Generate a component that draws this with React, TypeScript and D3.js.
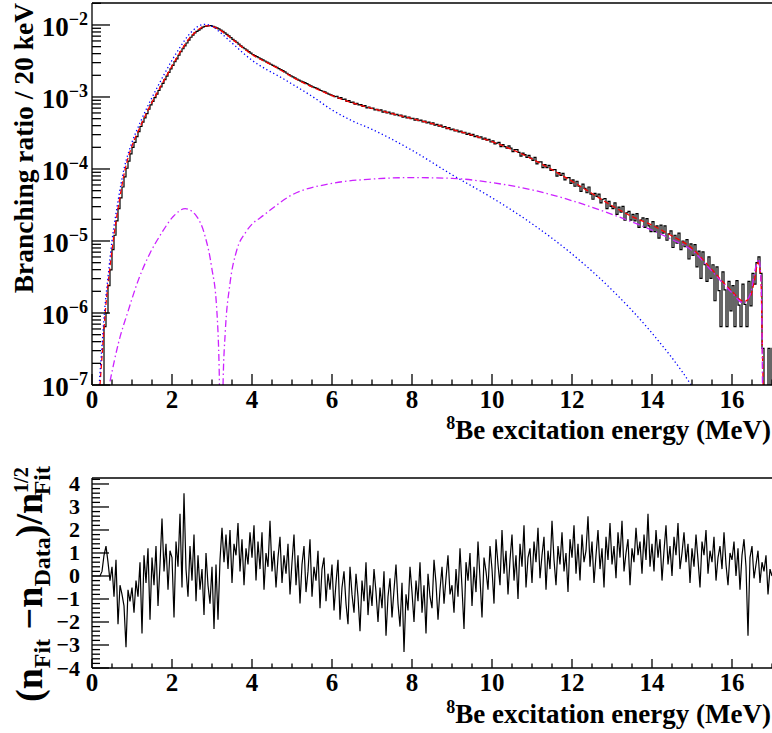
import React from "react";
import * as d3 from "d3";

// ---------- data ----------
// Total fit (red dashed): energy (MeV) and log10(branching ratio / 20 keV)
const fitEnergy = [0.2, 0.27, 0.33, 0.43, 0.53, 0.68, 0.83, 1.0, 1.2, 1.4, 1.6, 1.8, 2.0, 2.2, 2.4, 2.6, 2.8, 2.9, 3.0, 3.2, 3.4, 3.6, 3.8, 4.0, 4.4, 4.7, 5.0, 5.5, 6.0, 6.5, 7.0, 7.5, 8.0, 8.5, 9.0, 9.5, 10.0, 10.5, 11.0, 11.5, 12.0, 12.5, 13.0, 13.5, 14.0, 14.5, 15.0, 15.5, 16.0, 16.3, 16.45, 16.55, 16.65, 16.72, 16.76, 16.8];
const fitLog10 = [-7.0, -6.45, -6.0, -5.45, -5.0, -4.45, -4.0, -3.68, -3.42, -3.18, -2.97, -2.77, -2.57, -2.38, -2.21, -2.09, -2.02, -2.01, -2.02, -2.07, -2.15, -2.24, -2.33, -2.41, -2.53, -2.62, -2.72, -2.86, -2.98, -3.08, -3.16, -3.23, -3.3, -3.37, -3.45, -3.53, -3.62, -3.73, -3.86, -4.01, -4.17, -4.34, -4.51, -4.66, -4.78, -4.93, -5.1, -5.4, -5.7, -5.84, -5.78, -5.58, -5.3, -5.5, -6.5, -7.6];

// Component 1 (blue dotted)
const comp1Energy = [0.18, 0.25, 0.31, 0.41, 0.5, 0.65, 0.8, 1.0, 1.2, 1.4, 1.6, 1.8, 2.0, 2.2, 2.4, 2.6, 2.75, 2.85, 3.0, 3.2, 3.4, 3.6, 3.8, 4.0, 4.4, 4.7, 5.0, 5.5, 6.0, 6.5, 7.0, 8.0, 9.0, 10.0, 11.0, 12.0, 13.0, 14.0, 15.0, 15.5];
const comp1Log10 = [-7.0, -6.45, -6.0, -5.45, -5.0, -4.45, -4.0, -3.63, -3.36, -3.12, -2.9, -2.69, -2.49, -2.31, -2.15, -2.04, -1.995, -1.99, -2.02, -2.1, -2.2, -2.3, -2.4, -2.49, -2.63, -2.72, -2.82, -2.99, -3.18, -3.33, -3.45, -3.74, -4.08, -4.4, -4.76, -5.18, -5.68, -6.28, -7.02, -7.5];

// Component 2 (magenta dash-dot)
const comp2Energy = [0.45, 0.66, 0.91, 1.16, 1.45, 1.74, 2.03, 2.33, 2.62, 2.83, 2.99, 3.12, 3.18, 3.23, 3.28, 3.33, 3.45, 3.62, 3.83, 4.03, 4.2, 5.0, 6.0, 7.0, 8.0, 9.0, 10.0, 11.0, 12.0, 13.0, 14.0, 14.5, 15.0, 15.5, 16.0, 16.28, 16.45, 16.6, 16.67, 16.73, 16.77];
const comp2Log10 = [-6.95, -6.42, -5.96, -5.54, -5.17, -4.89, -4.66, -4.55, -4.66, -4.94, -5.36, -5.96, -6.8, -8.5, -6.9, -6.28, -5.59, -5.125, -4.89, -4.75, -4.68, -4.36, -4.2, -4.14, -4.12, -4.13, -4.19, -4.29, -4.44, -4.63, -4.85, -4.98, -5.13, -5.42, -5.72, -5.86, -5.75, -5.35, -5.25, -5.6, -7.5];

// Data histogram: log10 values, bins of 0.05 MeV starting at 0 MeV (-8 = empty bin)
const dataStart = 0;
const dataBinWidth = 0.05;
const dataLog10 = [
  -8, -8, -8, -8, -8, -8, -6.19, -6.0, -5.62, -5.4, -5.12, -4.92, -4.72, -4.55, -4.4, -4.25, -4.11, -3.99, -3.89, -3.79,
  -3.7, -3.63, -3.55, -3.48, -3.41, -3.35, -3.29, -3.23, -3.17, -3.11, -3.06, -3.01, -2.96, -2.91, -2.86, -2.81, -2.76, -2.71, -2.66, -2.61,
  -2.56, -2.51, -2.47, -2.42, -2.37, -2.33, -2.29, -2.25, -2.21, -2.17, -2.14, -2.11, -2.09, -2.07, -2.05, -2.03, -2.02, -2.015, -2.01, -2.01,
  -2.02, -2.03, -2.04, -2.055, -2.07, -2.09, -2.11, -2.13, -2.15, -2.175, -2.2, -2.22, -2.24, -2.265, -2.29, -2.31, -2.33, -2.35, -2.37, -2.39,
  -2.41, -2.425, -2.44, -2.455, -2.47, -2.485, -2.5, -2.515, -2.53, -2.545, -2.56, -2.575, -2.59, -2.605, -2.62, -2.635, -2.65, -2.67, -2.69, -2.705,
  -2.72, -2.735, -2.75, -2.765, -2.78, -2.79, -2.8, -2.815, -2.83, -2.845, -2.86, -2.87, -2.88, -2.895, -2.91, -2.92, -2.93, -2.945, -2.96, -2.97,
  -2.98, -2.995, -2.99, -3.02, -3.01, -3.035, -3.03, -3.06, -3.05, -3.075, -3.07, -3.1, -3.09, -3.11, -3.105, -3.13, -3.12, -3.15, -3.14, -3.16,
  -3.155, -3.18, -3.17, -3.19, -3.18, -3.21, -3.195, -3.22, -3.21, -3.235, -3.225, -3.25, -3.24, -3.26, -3.25, -3.28, -3.265, -3.29, -3.28, -3.3,
  -3.295, -3.32, -3.305, -3.33, -3.32, -3.345, -3.335, -3.36, -3.35, -3.375, -3.36, -3.39, -3.38, -3.405, -3.39, -3.42, -3.41, -3.44, -3.425, -3.455,
  -3.445, -3.47, -3.46, -3.485, -3.475, -3.5, -3.49, -3.52, -3.505, -3.535, -3.52, -3.55, -3.54, -3.565, -3.555, -3.585, -3.57, -3.6, -3.59, -3.625,
  -3.61, -3.65, -3.64, -3.63, -3.69, -3.66, -3.69, -3.71, -3.68, -3.71, -3.76, -3.73, -3.73, -3.77, -3.82, -3.78, -3.8, -3.84, -3.81, -3.85,
  -3.88, -3.84, -3.93, -3.9, -3.9, -3.98, -3.94, -3.98, -3.95, -4.02, -4.01, -4.01, -4.1, -4.05, -4.09, -4.06, -4.15, -4.12, -4.12, -4.2,
  -4.15, -4.24, -4.17, -4.24, -4.31, -4.21, -4.27, -4.33, -4.25, -4.35, -4.42, -4.34, -4.38, -4.35, -4.47, -4.42, -4.41, -4.55, -4.45, -4.52,
  -4.55, -4.47, -4.63, -4.53, -4.6, -4.52, -4.71, -4.61, -4.59, -4.71, -4.63, -4.72, -4.62, -4.81, -4.71, -4.68, -4.81, -4.69, -4.79, -4.87,
  -4.73, -4.87, -4.79, -4.96, -4.78, -4.89, -4.79, -4.99, -4.9, -4.86, -5.09, -4.92, -5.03, -4.89, -5.12, -5.0, -5.08, -4.98, -5.25, -5.04,
  -5.2, -5.05, -5.36, -5.14, -5.52, -5.15, -5.33, -5.56, -5.22, -5.52, -5.33, -5.83, -5.36, -5.69, -6.19, -5.43, -5.68, -6.19, -5.56, -5.97,
  -5.62, -6.19, -5.55, -5.89, -6.19, -5.6, -5.88, -6.19, -5.56, -5.9, -5.45, -5.6, -5.3, -5.22, -5.45, -6.49, -8, -8, -6.49, -8,
  -6.49,
];

// Residuals (n_Fit - n_Data)/sqrt(n_Fit), one value every 0.05 MeV from 0 MeV
const residualStep = 0.05;
const residuals = [
  0, 0, 0, 0, 0, 0.2, 0.9, 1.3, 0.6, -0.2, 0.4, -0.9, 0.7, -2.1, -0.4, -0.8, -1.3, -3.1, -0.6, -1.1,
  -0.5, -1.6, -0.2, -0.9, 0.6, -2.5, 0.9, -0.3, 1.2, -1.9, 0.8, -0.4, 1.3, -1.3, 0.5, 2.5, 0.2, 1.4, -0.6, 1.1,
  0.8, -1.8, 1.5, 0.4, 2.7, -0.5, 3.6, 0.3, -0.9, 1.3, -0.2, 1.8, -1.1, 0.9, -0.6, 0.3, -1.7, 1.0, -0.4, -1.2,
  0.4, -2.3, 0.5, -1.9, 0.7, 2.1, 0.6, 1.8, 0.3, 2.0, -0.3, 1.4, 0.9, 2.3, 0.2, 1.6, -0.4, 1.2, 0.5, 1.9,
  0.8, 2.2, -0.2, 1.5, 0.3, 1.9, -0.6, 1.0, 0.4, 2.4, 0.2, 1.1, -0.5, 0.8, 1.7, -0.3, 0.9, 0.1, 1.4, -0.8,
  0.6, 1.8, -0.4, 0.9, -1.2, 0.5, 1.3, -0.7, 0.2, 1.6, -0.9, 0.4, -0.2, 1.1, -1.4, 0.3, 0.8, -1.1, 0.1, -0.6,
  0.5, -1.5, -0.3, 0.7, -1.9, -0.5, 0.2, -1.2, -2.1, 0.4, -0.8, -1.6, 0.1, -0.9, -2.4, -0.2, -1.1, 0.6, -1.7, -0.4,
  -1.3, 0.3, -0.7, -2.0, -0.5, -1.4, 0.2, -2.6, -0.9, -0.1, -1.8, -0.6, 0.5, -1.2, -2.2, -0.3, -3.3, -0.8, -1.5, 0.4,
  -0.7, -2.0, -0.2, -1.1, 0.6, -1.6, -0.4, -2.5, 0.1, -0.9, -1.4, 0.7, -0.3, -1.9, -0.6, 0.4, -1.2, -0.1, 0.9, -0.8,
  -0.4, -1.6, 0.3, -0.9, 1.2, -0.5, -2.3, 0.6, -0.2, 1.0, -1.3, 0.4, -0.7, 1.5, -0.1, -1.8, 0.8, 0.2, -0.6, 1.3,
  0.3, -1.2, 1.6, 0.5, -0.4, 2.0, 0.1, 1.1, -0.8, 0.7, 1.8, -0.2, 0.9, -1.0, 1.4, 0.4, 2.2, -0.5, 0.8, 1.2,
  -0.3, 1.5, 0.6, 2.1, -0.1, 0.9, 1.7, -0.6, 1.1, 0.3, 2.4, 0.7, -0.4, 1.3, 0.5, 1.9, 0.2, 1.0, -0.7, 1.6,
  0.8, 2.2, 0.1, 1.4, -0.2, 1.8, 0.6, 1.1, 2.6, 0.4, 1.5, -0.3, 0.9, 2.0, 0.3, 1.2, -0.5, 1.7, 0.7, 2.3,
  0.5, 1.3, -0.1, 1.9, 0.8, 2.4, 0.2, 1.0, 1.6, -0.4, 1.2, 0.6, 2.1, 0.9, 1.5, 0.1, 1.8, 0.7, 2.7, 0.4,
  1.4, 0.2, 2.0, 0.8, 1.6, -0.2, 1.1, 2.2, 0.5, 1.3, 0.0, 1.7, 0.9, 2.3, 0.3, 1.0, 1.9, 0.6, 1.4, -0.3,
  1.2, 0.4, 1.8, 0.7, -0.5, 1.5, 0.9, 2.0, 0.1, 1.1, 0.6, 1.7, -0.2, 0.8, 1.3, 0.3, 1.9, 0.5, -0.4, 1.0,
  0.7, 1.5, 0.0, 1.2, -0.6, 0.9, 1.6, 0.4, -2.6, 0.8, 1.3, -0.1, 0.5, 1.1, -0.3, 0.6, 0.2, 0.9, -0.8, 0.3,
  0.0,
];

const xTickValues = [0, 2, 4, 6, 8, 10, 12, 14, 16];
const yTopDecades = [-7, -6, -5, -4, -3, -2];
const yBottomTicks = [-4, -3, -2, -1, 0, 1, 2, 3, 4];

const FONT = "'Liberation Serif', 'Times New Roman', Times, serif";

export default function App() {
  const W = 772;
  const H = 733;
  const left = 92;
  const right = 772;
  const tTop = 3;
  const tBot = 385;
  const bTop = 478;
  const bBot = 668;

  const x = d3.scaleLinear().domain([0, 17]).range([left, right]);
  const yT = d3.scaleLog().domain([1e-7, 0.0202]).range([tBot, tTop]);
  const yB = d3.scaleLinear().domain([-4, 4.26]).range([bBot, bTop]);

  const logLine = d3
    .line<[number, number]>()
    .x((d) => x(d[0]))
    .y((d) => yT(Math.pow(10, d[1])))
    .curve(d3.curveMonotoneX);

  const fitPts: [number, number][] = fitEnergy.map((e, i) => [e, fitLog10[i]]);
  const c1Pts: [number, number][] = comp1Energy.map((e, i) => [e, comp1Log10[i]]);
  const c2Pts: [number, number][] = comp2Energy.map((e, i) => [e, comp2Log10[i]]);

  const dataPts: [number, number][] = dataLog10.map((v, i) => [dataStart + i * dataBinWidth, v]);
  dataPts.push([dataStart + dataLog10.length * dataBinWidth, dataLog10[dataLog10.length - 1]]);
  const stepLine = d3
    .line<[number, number]>()
    .x((d) => x(d[0]))
    .y((d) => yT(Math.pow(10, d[1])))
    .curve(d3.curveStepAfter);

  const resLine = d3
    .line<number>()
    .x((_, i) => x(i * residualStep))
    .y((d) => yB(d));

  const majorX = xTickValues;
  const minorX = d3.range(0, 17.001, 0.5).filter((v) => Math.abs(v / 2 - Math.round(v / 2)) > 1e-6);

  const minorYTop: number[] = [];
  for (let dec = -7; dec <= -2; dec++) {
    for (let k = 2; k <= 9; k++) {
      const v = k * Math.pow(10, dec);
      if (v <= 0.0202) minorYTop.push(v);
    }
  }
  const minorYB = d3.range(-4, 4.26, 0.2).filter((v) => Math.abs(v - Math.round(v)) > 1e-6);

  const axisStroke = { stroke: "#000", strokeWidth: 1.3 };

  return (
    <svg
      width={W}
      height={H}
      style={{ position: "absolute", left: 0, top: 0, background: "#fff" }}
      fontFamily={FONT}
      fontWeight="bold"
    >
      <defs>
        <clipPath id="clipTop">
          <rect x={left} y={tTop} width={right - left} height={tBot - tTop} />
        </clipPath>
        <clipPath id="clipBot">
          <rect x={left} y={bTop} width={right - left} height={bBot - bTop} />
        </clipPath>
      </defs>
      <rect x={0} y={0} width={W} height={H} fill="#fff" />

      {/* ---------- top panel ---------- */}
      <g clipPath="url(#clipTop)">
        <path d={stepLine(dataPts) || ""} fill="none" stroke="#000" strokeWidth={1.2} />
        <path d={logLine(fitPts) || ""} fill="none" stroke="#ff0000" strokeWidth={1.3} strokeDasharray="5,3" />
        <path d={logLine(c1Pts) || ""} fill="none" stroke="#0000ff" strokeWidth={1.3} strokeDasharray="1.3,2.6" />
        <path d={logLine(c2Pts) || ""} fill="none" stroke="#cc22ff" strokeWidth={1.3} strokeDasharray="7,3,1.5,3" />
      </g>
      {/* frame */}
      <line x1={left} x2={right} y1={tTop} y2={tTop} {...axisStroke} />
      <line x1={left} x2={left} y1={tTop} y2={tBot} {...axisStroke} />
      <line x1={left} x2={right} y1={tBot} y2={tBot} {...axisStroke} />
      {/* x ticks */}
      {majorX.map((v) => (
        <line key={"tmx" + v} x1={x(v)} x2={x(v)} y1={tBot} y2={tBot - 11} {...axisStroke} />
      ))}
      {minorX.map((v) => (
        <line key={"tnx" + v} x1={x(v)} x2={x(v)} y1={tBot} y2={tBot - 5.5} {...axisStroke} />
      ))}
      {majorX.map((v) => (
        <text key={"tlx" + v} x={x(v)} y={408} textAnchor="middle" fontSize={25}>
          {v}
        </text>
      ))}
      {/* y ticks */}
      {yTopDecades.map((d) => (
        <line key={"tmy" + d} x1={left} x2={left + 18} y1={yT(Math.pow(10, d))} y2={yT(Math.pow(10, d))} {...axisStroke} />
      ))}
      {minorYTop.map((v, i) => (
        <line key={"tny" + i} x1={left} x2={left + 9} y1={yT(v)} y2={yT(v)} {...axisStroke} />
      ))}
      {yTopDecades.map((d) => (
        <text key={"tly" + d} x={88} y={yT(Math.pow(10, d)) + 11} textAnchor="end" fontSize={27}>
          <tspan>10</tspan>
          <tspan dy={-11} fontSize={18}>{"\u2212" + Math.abs(d)}</tspan>
        </text>
      ))}
      <text transform={`translate(33,${tTop}) rotate(-90)`} textAnchor="end" fontSize={27.5}>
        Branching ratio / 20 keV
      </text>
      <text x={771} y={439} textAnchor="end" fontSize={27}>
        <tspan fontSize={18} dy={-10}>8</tspan>
        <tspan dy={10}>Be excitation energy (MeV)</tspan>
      </text>

      {/* ---------- bottom panel ---------- */}
      <g clipPath="url(#clipBot)">
        <path d={resLine(residuals) || ""} fill="none" stroke="#000" strokeWidth={1.2} />
      </g>
      <line x1={left} x2={right} y1={bTop} y2={bTop} {...axisStroke} />
      <line x1={left} x2={left} y1={bTop} y2={bBot} {...axisStroke} />
      <line x1={left} x2={right} y1={bBot} y2={bBot} {...axisStroke} />
      {majorX.map((v) => (
        <line key={"bmx" + v} x1={x(v)} x2={x(v)} y1={bBot} y2={bBot - 9} {...axisStroke} />
      ))}
      {minorX.map((v) => (
        <line key={"bnx" + v} x1={x(v)} x2={x(v)} y1={bBot} y2={bBot - 4.5} {...axisStroke} />
      ))}
      {majorX.map((v) => (
        <text key={"blx" + v} x={x(v)} y={691} textAnchor="middle" fontSize={25}>
          {v}
        </text>
      ))}
      {yBottomTicks.map((v) => (
        <line key={"bmy" + v} x1={left} x2={left + 17} y1={yB(v)} y2={yB(v)} {...axisStroke} />
      ))}
      {minorYB.map((v, i) => (
        <line key={"bny" + i} x1={left} x2={left + 8} y1={yB(v)} y2={yB(v)} {...axisStroke} />
      ))}
      {yBottomTicks.map((v) => (
        <text key={"bly" + v} x={80} y={yB(v) + 7.5} textAnchor="end" fontSize={22}>
          {v < 0 ? "\u2212" + Math.abs(v) : String(v)}
        </text>
      ))}
      <text transform={`translate(42,466) rotate(-90)`} textAnchor="end" fontSize={38}>
        <tspan>(n</tspan>
        <tspan fontSize={24} dy={8}>Fit</tspan>
        <tspan dy={-8}>{" \u2212n"}</tspan>
        <tspan fontSize={24} dy={8}>Data</tspan>
        <tspan dy={-8}>)/n</tspan>
        <tspan fontSize={20} dy={-14}>1/2</tspan>
        <tspan fontSize={24} dx={-28} dy={22}>Fit</tspan>
      </text>
      <text x={771} y={723} textAnchor="end" fontSize={27}>
        <tspan fontSize={18} dy={-10}>8</tspan>
        <tspan dy={10}>Be excitation energy (MeV)</tspan>
      </text>
    </svg>
  );
}
